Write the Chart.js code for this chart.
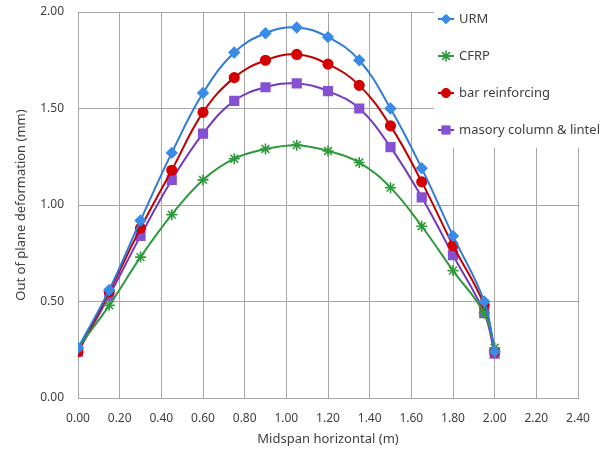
<!DOCTYPE html>
<html>
<head>
<meta charset="utf-8">
<script src="https://cdn.jsdelivr.net/npm/chart.js@4/dist/chart.umd.min.js"></script>
<style>
  html, body { margin: 0; padding: 0; background: #ffffff; }
  #wrap { width: 606px; height: 450px; position: relative; }
</style>
</head>
<body>
<div id="wrap"><canvas id="c" width="606" height="450"></canvas></div>
<script>
// Positions along the midspan (m)
const positions = [0.00, 0.15, 0.30, 0.45, 0.60, 0.75, 0.90, 1.05, 1.20, 1.35, 1.50, 1.65, 1.80, 1.95, 2.00];

// Out-of-plane deformation (mm) for each wall type
const urm        = [0.26, 0.56, 0.92, 1.27, 1.58, 1.79, 1.89, 1.92, 1.87, 1.75, 1.50, 1.19, 0.84, 0.50, 0.24];
const cfrp       = [0.26, 0.48, 0.73, 0.95, 1.13, 1.24, 1.29, 1.31, 1.28, 1.22, 1.09, 0.89, 0.66, 0.44, 0.26];
const barReinf   = [0.24, 0.55, 0.88, 1.18, 1.48, 1.66, 1.75, 1.78, 1.73, 1.62, 1.41, 1.12, 0.79, 0.48, 0.24];
const masonryCol = [0.24, 0.53, 0.84, 1.13, 1.37, 1.54, 1.61, 1.63, 1.59, 1.50, 1.30, 1.04, 0.74, 0.44, 0.23];

// Axis tick values
const xTicks = [0.0, 0.2, 0.4, 0.6, 0.8, 1.0, 1.2, 1.4, 1.6, 1.8, 2.0, 2.2, 2.4];
const yTicks = [0.0, 0.5, 1.0, 1.5, 2.0];

const seriesNames = ['URM', 'CFRP', 'bar reinforcing', 'masory column & lintel'];

const FONT = '"Noto Sans", "Open Sans", sans-serif';
const TEXT = '#404040';
const GRID = '#a6a6a6';

function pts(ys) { return positions.map((x, i) => ({ x: x, y: ys[i] })); }

const datasets = [
  { label: seriesNames[0], data: pts(urm), borderColor: '#2F7BD6', backgroundColor: '#3A8BE8',
    pointBackgroundColor: '#3A8BE8', pointBorderColor: '#3A8BE8', pointStyle: 'rectRot', pointRadius: 4.8, borderWidth: 2 },
  { label: seriesNames[1], data: pts(cfrp), borderColor: '#2E9A3C', backgroundColor: '#2E9A3C',
    pointBackgroundColor: '#2E9A3C', pointBorderColor: '#2E9A3C', pointStyle: 'star', pointRadius: 5.5, pointBorderWidth: 1.6, borderWidth: 2 },
  { label: seriesNames[2], data: pts(barReinf), borderColor: '#C00000', backgroundColor: '#D40000',
    pointBackgroundColor: '#D40000', pointBorderColor: '#D40000', pointStyle: 'circle', pointRadius: 4.6, borderWidth: 2 },
  { label: seriesNames[3], data: pts(masonryCol), borderColor: '#7438BE', backgroundColor: '#8550D2',
    pointBackgroundColor: '#8550D2', pointBorderColor: '#8550D2', pointStyle: 'rect', pointRadius: 5.8, borderWidth: 2 }
];

// Legend panel drawn over the upper-right of the plot area
const sideLegend = {
  id: 'sideLegend',
  beforeDatasetsDraw(chart) {
    const ctx = chart.ctx;
    ctx.save();
    ctx.fillStyle = '#ffffff';
    ctx.fillRect(434, 0, 172, 148);
    const rows = [19, 56, 93, 130];
    chart.data.datasets.forEach((ds, i) => {
      const y = rows[i];
      ctx.strokeStyle = ds.borderColor;
      ctx.lineWidth = 2;
      ctx.beginPath();
      ctx.moveTo(438, y);
      ctx.lineTo(454, y);
      ctx.stroke();
      ctx.fillStyle = ds.pointBackgroundColor;
      ctx.strokeStyle = ds.pointBorderColor;
      ctx.lineWidth = ds.pointBorderWidth || 1;
      Chart.helpers.drawPoint(ctx, { pointStyle: ds.pointStyle, radius: ds.pointRadius, borderWidth: ds.pointBorderWidth || 1, rotation: 0 }, 446, y);
      ctx.fillStyle = TEXT;
      ctx.font = '13px ' + FONT;
      ctx.textBaseline = 'middle';
      ctx.textAlign = 'left';
      ctx.fillText(ds.label, 459, y);
    });
    ctx.restore();
  }
};

new Chart(document.getElementById('c'), {
  type: 'line',
  data: { datasets: datasets },
  options: {
    responsive: false,
    animation: false,
    devicePixelRatio: 1,
    layout: { padding: { left: 0, top: 12, right: 28, bottom: 0 } },
    elements: { line: { tension: 0.4, fill: false } },
    plugins: { legend: { display: false }, tooltip: { enabled: false } },
    scales: {
      x: {
        type: 'linear', min: 0, max: 2.4,
        afterBuildTicks(scale) { scale.ticks = xTicks.map(v => ({ value: v })); },
        afterFit(scale) { scale.height = 52; },
        grid: { color: GRID, lineWidth: 1, drawTicks: false },
        border: { color: GRID, width: 1 },
        ticks: { padding: 13, color: TEXT, font: { family: FONT, size: 12 }, maxRotation: 0,
                 callback: v => Number(v).toFixed(2) },
        title: { display: true, text: 'Midspan horizontal (m)', color: TEXT,
                 font: { family: FONT, size: 13 }, padding: { top: 0, bottom: 3 } }
      },
      y: {
        type: 'linear', min: 0, max: 2,
        afterBuildTicks(scale) { scale.ticks = yTicks.map(v => ({ value: v })); },
        afterFit(scale) { scale.width = 78; scale.paddingTop = 0; scale.paddingBottom = 0; },
        grid: { color: GRID, lineWidth: 1, drawTicks: false },
        border: { color: GRID, width: 1 },
        ticks: { padding: 14, color: TEXT, font: { family: FONT, size: 12 },
                 callback: v => Number(v).toFixed(2) },
        title: { display: true, text: 'Out of plane deformation (mm)', color: TEXT,
                 font: { family: FONT, size: 13 }, padding: { top: 13, bottom: 0 } }
      }
    }
  },
  plugins: [sideLegend]
});
</script>
</body>
</html>
